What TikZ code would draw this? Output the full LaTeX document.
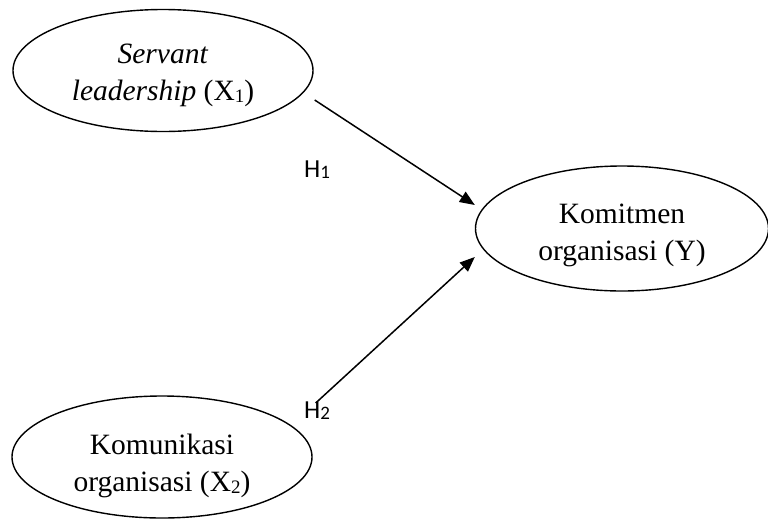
\documentclass[tikz,border=0pt]{standalone}
\usepackage{fontspec}
\setmainfont{Liberation Serif}
\newfontfamily\hfont{Carlito}
\usetikzlibrary{arrows.meta,shapes.geometric,calc}

\newcommand{\lowsub}[1]{\raisebox{-0.06em}{\fontsize{19}{19}\selectfont #1}}

\begin{document}
\begin{tikzpicture}[
  x=1pt, y=1pt,
  var/.style = {ellipse, draw, line width=1.4pt, inner sep=0pt,
                minimum width=300pt, minimum height=122pt, text height=66pt,
                align=center, font=\fontsize{29.5}{37}\selectfont},
  hyp/.style = {font=\hfont\fontsize{26}{26}\selectfont, inner sep=0pt, anchor=base west},
  arr/.style = {-{Triangle[length=15pt, width=12pt]}, line width=1.5pt},
]
\useasboundingbox (0,0) rectangle (768,-520);

% --- variables -------------------------------------------------------------
\node[var] (sl)  at (163,-70.5) {\textit{Servant}\\\textit{leadership} (X\lowsub{1})};
\node[var, text height=76pt] (kom) at (162,-457) {Komunikasi\\organisasi (X\lowsub{2})};
\node[var, minimum width=293pt, minimum height=125pt, text height=70pt] (ky) at (622,-228.5)
  {Komitmen\\organisasi (Y)};

% --- hypotheses ------------------------------------------------------------
\draw[arr] ($(sl.east)+(1,-29.5)$) -- ($(ky.west)+(0,23.5)$);
\draw[arr] ($(kom.east)+(3,54)$)   -- ($(ky.west)+(0,-28.5)$);

\node[hyp] (h1) at (304,-177) {H\lowsub{1}};
\node[hyp] (h2) at (304,-418) {H\lowsub{2}};

\end{tikzpicture}
\end{document}
